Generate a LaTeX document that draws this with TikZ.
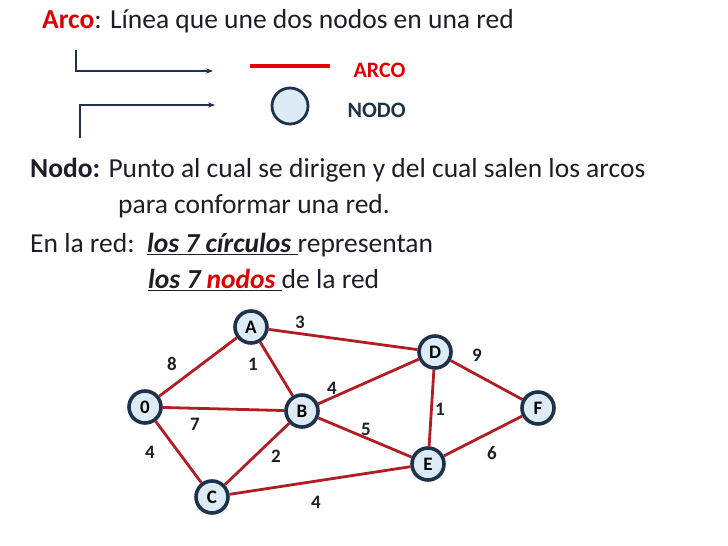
\documentclass[tikz,border=0pt]{standalone}
\usepackage{fontspec}
\setmainfont{Carlito}
\usetikzlibrary{arrows.meta}
\definecolor{arcred}{RGB}{176,30,36}
\definecolor{nodefill}{RGB}{221,235,245}
\definecolor{nodeline}{RGB}{30,50,75}
\definecolor{txt}{RGB}{30,30,40}

\begin{document}
\begin{tikzpicture}[x=1pt,y=-1pt]
\tikzstyle{vertex}=[circle,draw=nodeline,line width=3.6pt,fill=nodefill,minimum size=32pt,inner sep=0pt,font=\fontsize{19}{19}\bfseries]
\tikzstyle{arc}=[draw=arcred,line width=2.8pt]
\tikzstyle{weight}=[font=\fontsize{19}{19}\bfseries,text=txt]
\tikzstyle{para}=[anchor=west,inner sep=0pt,text=txt,font=\fontsize{27.5}{27.5}\selectfont]
\useasboundingbox (0,0) rectangle (728,546);
% text at the top
\node[para] (arcodef) at (42,21) {\textcolor{red!85!black}{\bfseries Arco}: Línea que une dos nodos en una red};
\coordinate (l1a) at (76,50);
\coordinate (l1b) at (213,71);
\coordinate (l2a) at (80,138);
\coordinate (l2b) at (215,105);
\draw[nodeline,line width=1.2pt,-{Stealth[length=7pt]}] (l1a) |- (l1b);
\draw[nodeline,line width=1.2pt,-{Stealth[length=7pt]}] (l2a) |- (l2b);
\coordinate (ra) at (250,66);
\coordinate (rb) at (330,66);
\draw[red!90!black,line width=4.5pt] (ra) -- (rb);
\node[anchor=west,text=red!85!black,font=\fontsize{22}{22}\bfseries] (arcolbl) at (350,70) {ARCO};
\node[circle,draw=nodeline,line width=2.8pt,fill=nodefill,minimum size=36pt] (sample) at (290,106) {};
\node[anchor=west,text=nodeline,font=\fontsize{22}{22}\bfseries] (nodolbl) at (344,110) {NODO};
% definition
\node[para] (nododef) at (30,170) {\textbf{Nodo:} Punto al cual se dirigen y del cual salen los arcos};
\node[para] (nododef2) at (118,206) {para conformar una red.};
\node[para] (enred) at (30,245) {En la red:\ \ \underline{\textbf{\itshape los 7 círculos }}representan};
\node[para] (enred2) at (148,280) {\underline{\textbf{\itshape los 7 \textcolor{red!85!black}{nodos} }}de la red};
% the graph
\node[vertex] (n0) at (145,407) {0};
\node[vertex] (A) at (251,327) {A};
\node[vertex] (B) at (302,411) {B};
\node[vertex] (C) at (212,497) {C};
\node[vertex] (D) at (435,352) {D};
\node[vertex] (E) at (428,464) {E};
\node[vertex] (F) at (538,408) {F};
\path[arc] (n0) -- (A) (n0) -- (B) (n0) -- (C) (A) -- (B) (A) -- (D)
  (B) -- (D) (B) -- (E) (B) -- (C) (C) -- (E) (D) -- (E) (D) -- (F) (E) -- (F);
\node[weight] (w1) at (300,322) {3};
\node[weight] (w2) at (172,364) {8};
\node[weight] (w3) at (253,364) {1};
\node[weight] (w4) at (477,355) {9};
\node[weight] (w5) at (332,388) {4};
\node[weight] (w6) at (195,424) {7};
\node[weight] (w7) at (440,409) {1};
\node[weight] (w8) at (366,429) {5};
\node[weight] (w9) at (150,452) {4};
\node[weight] (w10) at (276,456) {2};
\node[weight] (w11) at (492,453) {6};
\node[weight] (w12) at (316,502) {4};
\end{tikzpicture}
\end{document}
